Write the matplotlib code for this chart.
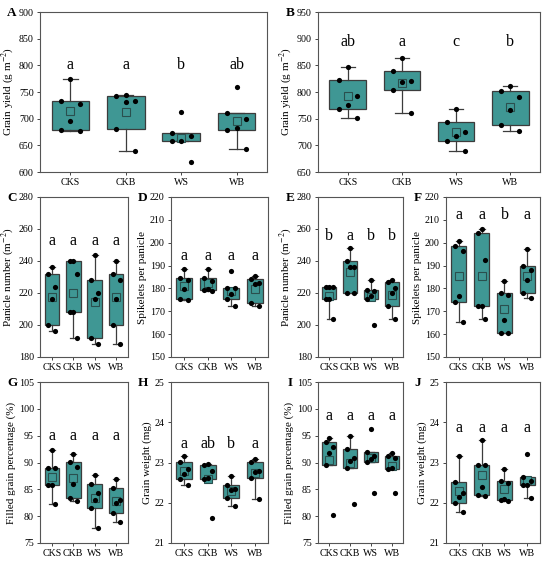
import matplotlib
matplotlib.use('Agg')
import matplotlib.pyplot as plt
import numpy as np

plt.rcParams['font.family'] = ['Liberation Serif', 'DejaVu Serif']
plt.rcParams['mathtext.fontset'] = 'stix'

groups = ['CKS', 'CKB', 'WS', 'WB']

# panel data: values per group
yield_a = [[774, 734, 728, 696, 679, 677],
           [745, 742, 734, 732, 680, 640],
           [712, 673, 667, 659, 658, 618],
           [760, 710, 700, 682, 679, 643]]
yield_b = [[846, 822, 792, 776, 768, 751],
           [863, 839, 820, 819, 804, 761],
           [768, 744, 725, 718, 709, 689],
           [811, 802, 790, 766, 739, 727]]
panicle_c = [[236, 232, 224, 216, 200, 196],
             [240, 240, 232, 208, 208, 192],
             [244, 228, 220, 216, 192, 188],
             [240, 232, 228, 216, 200, 188]]
spikelet_d = [[188.7, 184.5, 183.5, 179.7, 175.5, 175.0],
              [188.4, 184.6, 183.4, 179.6, 179.4, 179.0],
              [187.8, 180.3, 180.2, 177.5, 175.5, 172.5],
              [185.3, 184.0, 182.2, 181.8, 173.8, 172.2]]
panicle_e = [[224, 224, 224, 216, 216, 204],
             [248, 240, 236, 236, 220, 220],
             [228, 222, 221, 218, 216, 200],
             [228, 227, 223, 220, 212, 204]]
spikelet_f = [[200.7, 198.5, 196.3, 176.9, 174.1, 165.1],
              [206.2, 204.3, 192.6, 172.1, 172.1, 166.6],
              [183.4, 178.2, 177.0, 166.0, 160.5, 160.5],
              [197.3, 189.8, 188.0, 183.7, 177.9, 175.7]]
filled_g = [[92.3, 89.0, 89.0, 85.8, 85.8, 82.2],
            [91.65, 90.1, 89.2, 86.05, 83.3, 82.9],
            [87.6, 86.0, 84.25, 83.1, 81.6, 77.8],
            [86.9, 85.25, 83.1, 82.4, 80.5, 78.9]]
weight_h = [[23.17, 23.01, 22.83, 22.71, 22.58, 22.44],
            [22.96, 22.95, 22.78, 22.62, 22.58, 21.62],
            [22.67, 22.43, 22.35, 22.32, 22.12, 21.93],
            [23.09, 23.02, 22.80, 22.76, 22.61, 22.09]]
filled_i = [[94.57, 93.8, 92.95, 91.8, 89.6, 80.3],
            [95.0, 92.6, 90.8, 90.2, 89.0, 82.2],
            [96.3, 91.9, 91.15, 90.7, 90.1, 84.4],
            [91.8, 91.3, 90.8, 88.9, 88.85, 84.4]]
weight_j = [[23.15, 22.51, 22.23, 22.14, 21.99, 21.76],
            [23.56, 22.94, 22.93, 22.39, 22.20, 22.17],
            [22.83, 22.55, 22.50, 22.10, 22.08, 22.05],
            [23.22, 22.64, 22.53, 22.45, 22.43, 22.12]]

letters_a = ['a', 'a', 'b', 'ab']
letters_b = ['ab', 'a', 'c', 'b']
letters_c = ['a', 'a', 'a', 'a']
letters_d = ['a', 'a', 'a', 'a']
letters_e = ['b', 'a', 'b', 'b']
letters_f = ['a', 'a', 'b', 'a']
letters_g = ['a', 'a', 'a', 'a']
letters_h = ['a', 'ab', 'b', 'a']
letters_i = ['a', 'a', 'a', 'a']
letters_j = ['a', 'a', 'a', 'a']

fill = '#3f9794'
edge = '#3c3c3c'
jit = [0.0, -0.17, 0.17, 0.0, -0.17, 0.17]

W, H = 550.0, 564.0


def stats(vals):
    # Tukey hinges, 1.5 IQR whiskers
    v = np.sort(np.array(vals, dtype=float))
    n = len(v)
    lo = v[:(n + 1) // 2]
    hi = v[n // 2:]
    q1, q3 = np.median(lo), np.median(hi)
    iqr = q3 - q1
    wlo = v[v >= q1 - 1.5 * iqr].min()
    whi = v[v <= q3 + 1.5 * iqr].max()
    return dict(med=np.median(v), q1=q1, q3=q3, whislo=wlo, whishi=whi,
                mean=v.mean(), fliers=[])


def panel(box, data, letters, ylim, step, ylabel, tag, ly):
    l, rgt, t, b = box
    ax = fig.add_axes([l / W, 1 - b / H, (rgt - l) / W, (b - t) / H])
    st = [stats(d) for d in data]
    pos = np.arange(1, len(groups) + 1)
    ax.bxp(st, positions=pos, widths=0.68, capwidths=0.26, patch_artist=True,
           showmeans=True, showfliers=False,
           boxprops=dict(facecolor=fill, edgecolor=edge, linewidth=0.9),
           whiskerprops=dict(color=edge, linewidth=0.9),
           capprops=dict(color=edge, linewidth=0.9),
           medianprops=dict(linewidth=0),
           meanprops=dict(marker='s', markersize=6, markerfacecolor=fill,
                          markeredgecolor='#2a4f4e', markeredgewidth=0.8))
    for p, d in zip(pos, data):
        xs = [p + jit[k % len(jit)] for k in range(len(d))]
        ax.scatter(xs, d, s=14, color='black', zorder=5, linewidths=0)
    for p, t_ in zip(pos, letters):
        ax.text(p, ly, t_, ha='center', va='center', fontsize=11.5)
    ax.set_xlim(0.45, len(groups) + 0.55)
    ax.set_ylim(*ylim)
    ax.set_yticks(np.arange(ylim[0], ylim[1] + step / 2, step))
    ax.set_xticks(pos)
    ax.set_xticklabels(groups)
    ax.tick_params(labelsize=7.2, length=2.5, width=0.7, color='#444444', pad=2)
    for s in ax.spines.values():
        s.set_color('#555555')
        s.set_linewidth(0.8)
    ax.set_ylabel(ylabel, fontsize=8, labelpad=2)
    fig.text((l - 28) / W, 1 - (t + 1) / H, tag, ha='center', va='center',
             fontsize=9.5, fontweight='bold')
    return ax


fig = plt.figure(figsize=(5.5, 5.64), dpi=100)

gy = r'Grain yield (g m$^{-2}$)'
pn = r'Panicle number (m$^{-2}$)'
sp = 'Spikelets per panicle'
fg = 'Filled grain percentage (%)'
gw = 'Grain weight (mg)'
panel((40, 267, 12, 172), yield_a, letters_a, (600, 900), 50, gy, 'A', 800)
panel((318, 540, 12, 172), yield_b, letters_b, (650, 950), 50, gy, 'B', 893)
panel((40, 128, 197, 357), panicle_c, letters_c, (180, 280), 20, pn, 'C', 252.5)
panel((171, 268, 197, 357), spikelet_d, letters_d, (150, 220), 10, sp, 'D', 194.3)
panel((318, 403, 197, 357), panicle_e, letters_e, (180, 280), 20, pn, 'E', 255.6)
panel((446, 540, 197, 357), spikelet_f, letters_f, (150, 220), 10, sp, 'F', 212)
panel((40, 128, 382, 543), filled_g, letters_g, (75, 105), 5, fg, 'G', 94.9)
panel((171, 268, 382, 543), weight_h, letters_h, (21, 25), 1, gw, 'H', 23.46)
panel((318, 403, 382, 543), filled_i, letters_i, (75, 105), 5, fg, 'I', 98.6)
panel((446, 540, 382, 543), weight_j, letters_j, (21, 25), 1, gw, 'J', 23.86)

fig.savefig('out.png', dpi=100)
